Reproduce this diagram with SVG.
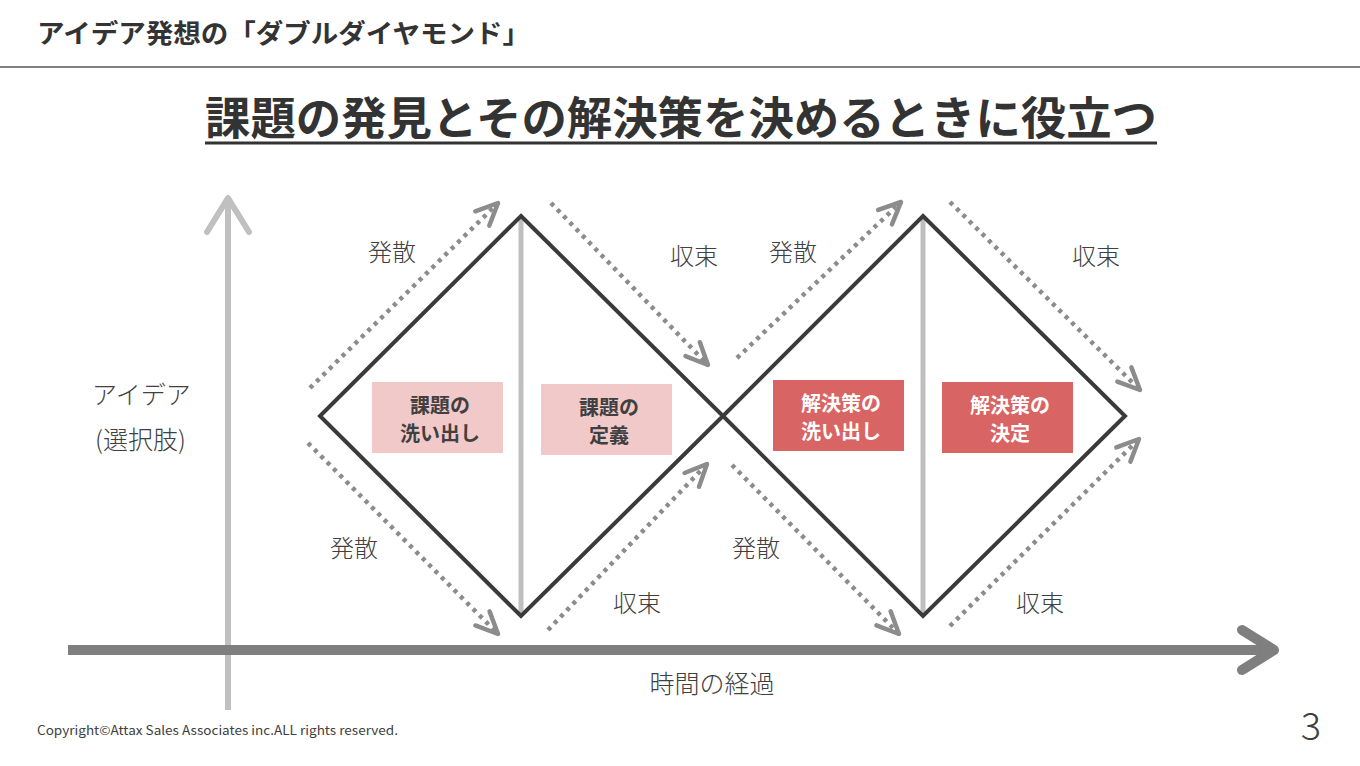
<svg xmlns="http://www.w3.org/2000/svg" width="1360" height="766" viewBox="0 0 1360 766">
<style>
text{font-family:"Noto Sans CJK JP","Noto Sans",sans-serif;}
.title{font-size:26px;font-weight:700;fill:#333;}
.sub{font-size:45px;font-weight:700;fill:#333;}
.lbl{font-size:24px;font-weight:300;fill:#404040;}
.axl{font-size:25px;font-weight:300;fill:#404040;}
.bx{font-size:20px;font-weight:700;text-anchor:middle;}
.dk{fill:#404040;}
.wt{fill:#fff;}
.pink{fill:#f2c9c9;}
.red{fill:#d96464;}
.dia{fill:none;stroke:#3a3a3a;stroke-width:4;stroke-linejoin:miter;}
.mid{stroke:#bfbfbf;stroke-width:5;}
.dot{fill:none;stroke:#8c8c8c;stroke-width:4.5;stroke-dasharray:4 5;marker-end:url(#ah);}
</style>
<defs>
<marker id="ah" markerUnits="userSpaceOnUse" markerWidth="40" markerHeight="40" viewBox="-30 -20 40 40" refX="0" refY="0" orient="auto" overflow="visible">
<path d="M-22,-10 L0,0 L-22,10" fill="none" stroke="#8c8c8c" stroke-width="4.5" stroke-linecap="round" stroke-linejoin="round"/>
</marker>
</defs>
<rect width="1360" height="766" fill="#fff"/>
<g id="header">
<text class="title" x="37" y="43" textLength="493" lengthAdjust="spacingAndGlyphs">アイデア発想の「ダブルダイヤモンド」</text>
<line x1="0" y1="67" x2="1360" y2="67" stroke="#808080" stroke-width="2"/>
</g>
<g id="subtitle">
<text class="sub" x="681" y="135" text-anchor="middle" textLength="952" lengthAdjust="spacingAndGlyphs">課題の発見とその解決策を決めるときに役立つ</text>
<line x1="205" y1="143" x2="1157" y2="143" stroke="#333" stroke-width="3"/>
</g>
<g id="axes">
<line x1="228" y1="200" x2="228" y2="710" stroke="#c0c0c0" stroke-width="6"/>
<path d="M207,232 L228,198 L249,232" fill="none" stroke="#c0c0c0" stroke-width="6" stroke-linecap="round" stroke-linejoin="round"/>
<line x1="68" y1="650" x2="1270" y2="650" stroke="#7f7f7f" stroke-width="10"/>
<path d="M1242,630 L1274,650 L1242,670" fill="none" stroke="#7f7f7f" stroke-width="10" stroke-linecap="round" stroke-linejoin="round"/>
</g>
<g id="axis-labels">
<text class="axl" x="92" y="404">アイデア</text>
<text class="axl" x="95" y="449">(選択肢)</text>
<text class="axl" x="712" y="693" text-anchor="middle">時間の経過</text>
</g>
<g id="diamond1">
<line class="mid" x1="521" y1="218" x2="521" y2="614"/>
<path class="dia" d="M521,216 L723,416 L521,616 L320,416 Z"/>
</g>
<g id="diamond2">
<line class="mid" x1="923" y1="218" x2="923" y2="614"/>
<path class="dia" d="M923,216 L1125,416 L923,616 L723,416 Z"/>
</g>
<g id="connectors">
<line class="dot" x1="310" y1="388" x2="498" y2="203"/>
<line class="dot" x1="551" y1="203" x2="708" y2="365"/>
<line class="dot" x1="308" y1="443" x2="498" y2="634"/>
<line class="dot" x1="548" y1="630" x2="707" y2="464"/>
<line class="dot" x1="737" y1="358" x2="901" y2="202"/>
<line class="dot" x1="950" y1="202" x2="1140" y2="390"/>
<line class="dot" x1="732" y1="465" x2="899" y2="634"/>
<line class="dot" x1="950" y1="626" x2="1139" y2="439"/>
</g>
<g id="labels">
<text class="lbl" x="392" y="261" text-anchor="middle">発散</text>
<text class="lbl" x="694" y="265" text-anchor="middle">収束</text>
<text class="lbl" x="793" y="261" text-anchor="middle">発散</text>
<text class="lbl" x="1096" y="265" text-anchor="middle">収束</text>
<text class="lbl" x="354" y="557" text-anchor="middle">発散</text>
<text class="lbl" x="637" y="612" text-anchor="middle">収束</text>
<text class="lbl" x="756" y="557" text-anchor="middle">発散</text>
<text class="lbl" x="1040" y="612" text-anchor="middle">収束</text>
</g>
<g id="box1">
<rect class="pink" x="372" y="382" width="131" height="71"/>
<text class="bx dk" x="440" y="413">課題の</text>
<text class="bx dk" x="440" y="441">洗い出し</text>
</g>
<g id="box2">
<rect class="pink" x="541" y="384" width="131" height="71"/>
<text class="bx dk" x="609" y="415">課題の</text>
<text class="bx dk" x="609" y="443">定義</text>
</g>
<g id="box3">
<rect class="red" x="773" y="380" width="131" height="71"/>
<text class="bx wt" x="841" y="411">解決策の</text>
<text class="bx wt" x="841" y="439">洗い出し</text>
</g>
<g id="box4">
<rect class="red" x="942" y="382" width="131" height="71"/>
<text class="bx wt" x="1010" y="413">解決策の</text>
<text class="bx wt" x="1010" y="441">決定</text>
</g>
<g id="footer">
<text x="37" y="735" font-family="Open Sans, Liberation Sans, sans-serif" font-size="12.5" fill="#404040" textLength="361" lengthAdjust="spacingAndGlyphs">Copyright©Attax Sales Associates inc.ALL rights reserved.</text>
<text x="1311" y="740" font-family="Open Sans, Liberation Sans, sans-serif" font-size="38" font-weight="300" fill="#404040" text-anchor="middle">3</text>
</g>
</svg>
